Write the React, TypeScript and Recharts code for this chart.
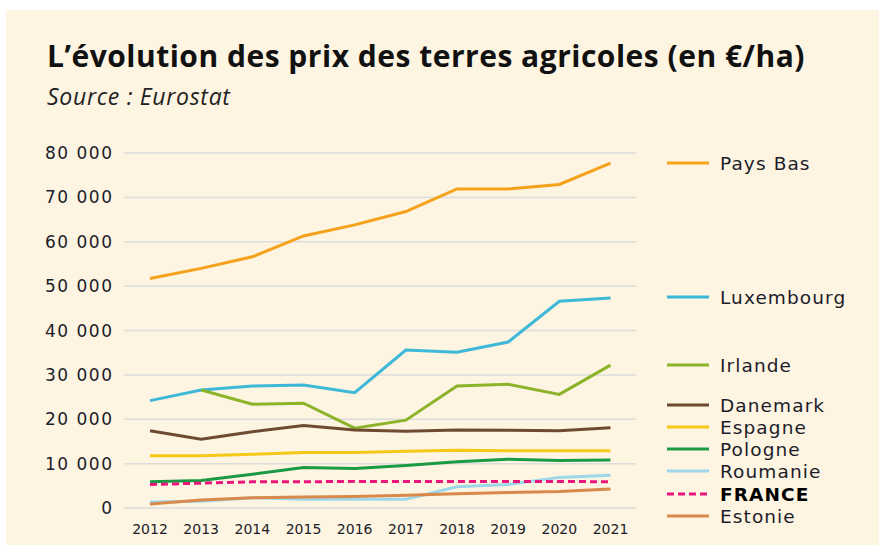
import { CartesianGrid, Line, LineChart, XAxis, YAxis } from 'recharts'

const years = ['2012', '2013', '2014', '2015', '2016', '2017', '2018', '2019', '2020', '2021']

const paysBas = [51700, 54000, 56600, 61300, 63800, 66800, 71900, 71900, 72900, 77700]
const luxembourg = [24200, 26600, 27500, 27700, 26000, 35600, 35100, 37400, 46600, 47300]
const irlande = [null, 26600, 23400, 23600, 18000, 19800, 27500, 27900, 25600, 32200]
const danemark = [17400, 15500, 17200, 18600, 17600, 17300, 17600, 17500, 17400, 18100]
const espagne = [11800, 11800, 12100, 12500, 12500, 12800, 13000, 12900, 12900, 12900]
const pologne = [5900, 6200, 7600, 9100, 8900, 9600, 10400, 11000, 10700, 10800]
const roumanie = [1350, 1500, 2300, 2000, 2000, 2000, 4800, 5300, 6900, 7400]
const france = [5300, 5600, 5900, 5900, 6000, 6000, 6000, 6000, 6000, 5900]
const estonie = [900, 1800, 2300, 2500, 2600, 2900, 3200, 3500, 3700, 4300]

const yTicks = [0, 10000, 20000, 30000, 40000, 50000, 60000, 70000, 80000]

const series = [
  { key: 'Pays Bas', values: paysBas, color: '#f5a11c' },
  { key: 'Luxembourg', values: luxembourg, color: '#3db8d9' },
  { key: 'Irlande', values: irlande, color: '#8db32a' },
  { key: 'Danemark', values: danemark, color: '#6e4b30' },
  { key: 'Espagne', values: espagne, color: '#f6c918' },
  { key: 'Pologne', values: pologne, color: '#1b9a46' },
  { key: 'Roumanie', values: roumanie, color: '#9fd7ea' },
  { key: 'FRANCE', values: france, color: '#e8157a', dashed: true },
  { key: 'Estonie', values: estonie, color: '#d98a4b' }
]

// legend rows sit next to the line ends
const legendTops = [163, 297, 365, 405, 427, 449, 471, 494, 516]

const data = years.map((year, i) => {
  const row: Record<string, string | number | null> = { year }
  series.forEach((s) => {
    row[s.key] = s.values[i]
  })
  return row
})

const fmt = (v: number) => v.toLocaleString('en-US').replace(/,/g, ' ')

const textColor = '#1c1c2a'
const font = '"DejaVu Sans", sans-serif'

const LegendBox = () => (
  <div style={{ position: 'absolute', left: 667, top: 0, width: 212, height: 545 }}>
    {series.map((s, i) => (
      <div
        key={s.key}
        style={{
          position: 'absolute',
          left: 0,
          top: legendTops[i] - 11,
          height: 22,
          display: 'flex',
          alignItems: 'center',
          whiteSpace: 'nowrap'
        }}
      >
        <svg width={42} height={6} style={{ marginRight: 11 }}>
          <line
            x1={0}
            y1={3}
            x2={42}
            y2={3}
            stroke={s.color}
            strokeWidth={3}
            strokeDasharray={s.dashed ? '7 4' : undefined}
          />
        </svg>
        <span
          style={{
            fontFamily: font,
            fontSize: 18.5,
            letterSpacing: 1.1,
            color: s.dashed ? '#000' : textColor,
            fontWeight: s.dashed ? 700 : 400
          }}
        >
          {s.key}
        </span>
      </div>
    ))}
  </div>
)

export default function App() {
  return (
    <div style={{ position: 'absolute', left: 0, top: 0, width: 879, height: 545, background: '#fff', overflow: 'hidden' }}>
      <div style={{ position: 'absolute', left: 6, top: 10, right: 0, bottom: 0, background: '#fdf4e1' }} />
      <div
        style={{
          position: 'absolute',
          left: 47,
          top: 35,
          fontFamily: '"Open Sans", sans-serif',
          fontWeight: 700,
          fontSize: 30,
          lineHeight: 'normal',
          letterSpacing: 0.5,
          color: '#111',
          whiteSpace: 'nowrap'
        }}
      >
        L’évolution des prix des terres agricoles (en €/ha)
      </div>
      <div
        style={{
          position: 'absolute',
          left: 47,
          top: 80,
          fontFamily: '"Open Sans", sans-serif',
          fontStyle: 'italic',
          fontSize: 23,
          lineHeight: 'normal',
          letterSpacing: 0.7,
          color: '#222',
          whiteSpace: 'nowrap'
        }}
      >
        Source : Eurostat
      </div>
      <div style={{ position: 'absolute', left: 0, top: 0 }}>
        <LineChart width={879} height={545} data={data} margin={{ top: 153, right: 243, bottom: 0, left: 0 }}>
          <CartesianGrid vertical={false} stroke="#dcdcdc" strokeWidth={1.5} />
          <XAxis
            dataKey="year"
            height={37}
            axisLine={false}
            tickLine={false}
            tickMargin={10}
            interval={0}
            padding={{ left: 25.5, right: 25.5 }}
            tick={{ fontFamily: font, fontSize: 14, fill: textColor }}
          />
          <YAxis
            width={124.5}
            domain={[0, 80000]}
            ticks={yTicks}
            axisLine={false}
            tickLine={false}
            tickMargin={5}
            tickFormatter={fmt}
            tick={{ fontFamily: font, fontSize: 17, fill: textColor, letterSpacing: 1.5 }}
          />
          {series.map((s) => (
            <Line
              key={s.key}
              dataKey={s.key}
              stroke={s.color}
              strokeWidth={3}
              strokeDasharray={s.dashed ? '7 4' : undefined}
              dot={false}
              activeDot={false}
              isAnimationActive={false}
            />
          ))}
        </LineChart>
      </div>
      <LegendBox />
    </div>
  )
}
